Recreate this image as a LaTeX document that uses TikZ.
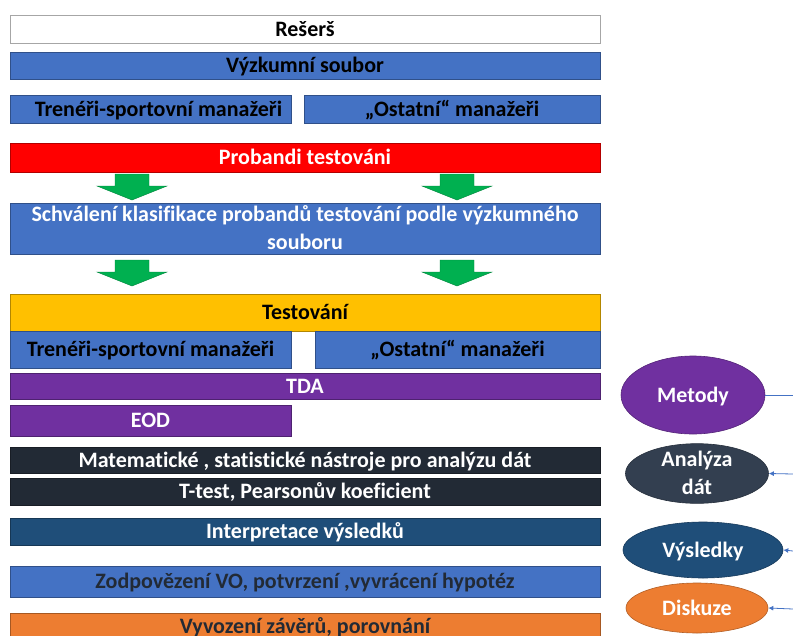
\documentclass[tikz,border=0pt]{standalone}
\usepackage{fontspec}
\setmainfont{Carlito}[Ligatures=NoCommon]
\usetikzlibrary{shapes.geometric,arrows.meta}
\definecolor{cblue}{HTML}{4472C4}
\definecolor{cred}{HTML}{FF0000}
\definecolor{cyellow}{HTML}{FFC000}
\definecolor{cpurple}{HTML}{7030A0}
\definecolor{cdark}{HTML}{222A35}
\definecolor{cnavy}{HTML}{1F4E79}
\definecolor{corange}{HTML}{ED7D31}
\definecolor{cslate}{HTML}{333F50}
\definecolor{cgreen}{HTML}{00B050}
\newcommand{\labelfont}{\fontsize{22}{28}\selectfont\bfseries}
\tikzset{
  capbox/.style={text height=14.2pt, text depth=0pt},
  twolines/.style={text height=42.2pt, text depth=0pt},
  bar/.style={rectangle, inner sep=0pt, draw=#1!70!black, line width=0.6pt,
    fill=#1, font=\labelfont, align=center, capbox},
  wide/.style={minimum width=590pt},
  oval/.style={ellipse, inner sep=0pt, draw=#1!75!black, line width=0.6pt,
    fill=#1, text=white, font=\labelfont, align=center, capbox},
  blockarrow/.style={fill=cgreen, draw=cgreen!75!black, line width=0.4pt},
  link/.style={draw=cblue, line width=0.8pt},
  linkarrow/.style={link, -{Latex[length=5pt,width=5pt]}},
}
\begin{document}
\begin{tikzpicture}[x=1pt,y=-1pt]
\useasboundingbox (0,0) rectangle (793,635);
\clip (0,0) rectangle (793,635);

% main column of stages
\node[bar=white, draw=gray!70, wide, minimum height=28pt] (reserse) at (305,29) {Rešerš};
\node[bar=cblue, wide, minimum height=27pt] (soubor) at (305,65.5) {Výzkumní soubor};
\node[bar=cblue, minimum width=281pt, minimum height=28pt] (trenA) at (150.5,109) {\hspace{16pt}Trenéři-sportovní manažeři};
\node[bar=cblue, minimum width=296pt, minimum height=28pt] (ostA) at (452,109) {„Ostatní“ manažeři};
\node[bar=cred, text=white, wide, minimum height=29pt] (probandi) at (305,157.5) {Probandi testováni};
\node[bar=cblue, text=white, wide, minimum height=51pt, twolines] (schval) at (305,228.5)
  {Schválení klasifikace probandů testování podle výzkumného\\souboru};
\node[bar=cyellow, wide, minimum height=37pt] (test) at (305,312.5) {Testování};
\node[bar=cblue, minimum width=281pt, minimum height=37pt] (trenB) at (150.5,349.5) {Trenéři-sportovní manažeři};
\node[bar=cblue, minimum width=285pt, minimum height=37pt] (ostB) at (457.5,349.5) {„Ostatní“ manažeři};
\node[bar=cpurple, text=white, wide, minimum height=26pt] (tda) at (305,386) {TDA};
\node[bar=cpurple, text=white, minimum width=281pt, minimum height=31pt] (eod) at (150.5,420.5) {EOD};
\node[bar=cdark, text=white, wide, minimum height=26pt] (mat) at (305,460) {Matematické , statistické nástroje pro analýzu dát};
\node[bar=cdark, text=white, wide, minimum height=27pt] (ttest) at (305,491.5) {T-test, Pearsonův koeficient};
\node[bar=cnavy, text=white, wide, minimum height=27pt] (interp) at (305,531.5) {Interpretace výsledků};
\node[bar=cblue, text=cdark, wide, minimum height=31pt] (zodp) at (305,581.5) {Zodpovězení VO, potvrzení ,vyvrácení hypotéz};
\node[bar=corange, text=cdark, wide, minimum height=27pt] (vyvoz) at (305,626.5) {Vyvození závěrů, porovnání};

% green block arrows between the stages
\foreach \cx in {132,457}{
  \foreach \top/\neck/\tip in {174/186/200, 260/272/286}{
    \path[blockarrow] (\cx-17,\top) -- (\cx+17,\top) -- (\cx+17,\neck) -- (\cx+35,\neck)
      -- (\cx,\tip) -- (\cx-35,\neck) -- (\cx-17,\neck) -- cycle;
  }
}

% chapter ovals on the right
\node[oval=cpurple, minimum width=144pt, minimum height=78pt] (metody) at (693,395) {Metody};
\node[oval=cslate, minimum width=143pt, minimum height=57pt, twolines] (analyza) at (697,473.5) {Analýza\\dát};
\node[oval=cnavy, minimum width=160pt, minimum height=56pt] (vysledky) at (703,550) {Výsledky};
\node[oval=corange, minimum width=142pt, minimum height=50pt] (diskuze) at (697,608) {Diskuze};

\coordinate (inM) at (793,395);
\coordinate (inA) at (793,474);
\coordinate (inV) at (793,551);
\coordinate (inD) at (793,609);
\draw[link] (inM) -- (metody.east);
\draw[linkarrow] (inA) -- (analyza.east);
\draw[linkarrow] (inV) -- (vysledky.east);
\draw[linkarrow] (inD) -- (diskuze.east);
\end{tikzpicture}
\end{document}
